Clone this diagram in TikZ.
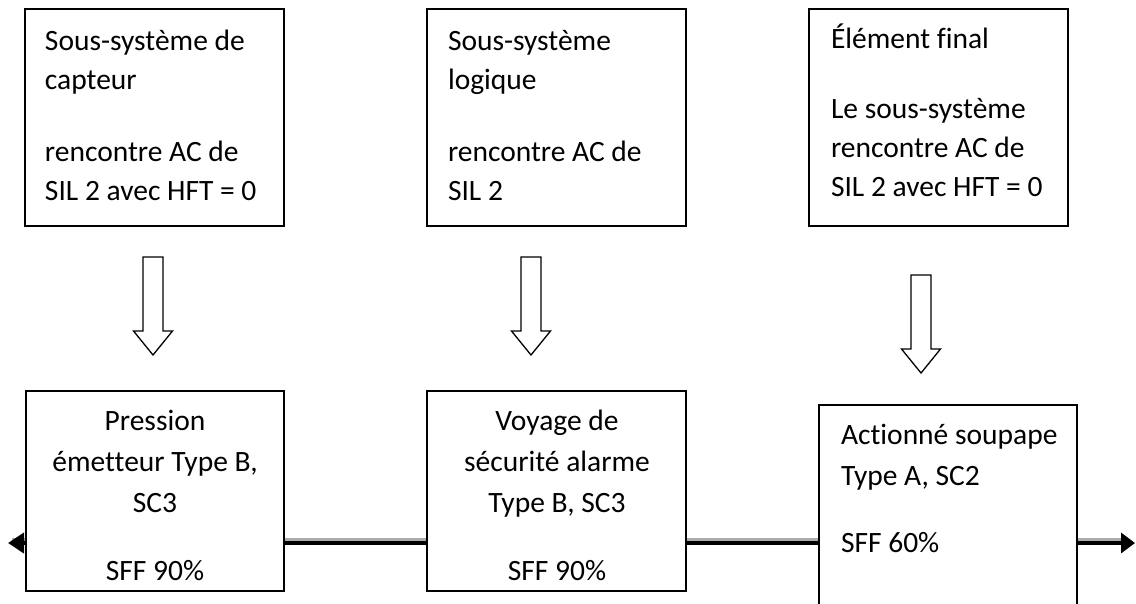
\documentclass[tikz,border=0pt]{standalone}
\usepackage{fontspec}
\setmainfont{Carlito}[Ligatures=NoCommon]
\usetikzlibrary{arrows.meta}
\begin{document}
\begin{tikzpicture}[x=1pt,y=-1pt,
  box/.style={draw=black, line width=1.3pt, fill=white, inner sep=0pt, outer sep=0pt},
  toptxt/.style={inner sep=0pt, outer sep=0pt, anchor=north west, align=left, text=black, font=\fontsize{29.5}{39}\selectfont},
  bottxt/.style={inner sep=0pt, outer sep=0pt, text=black, font=\fontsize{29.5}{41}\selectfont},
  hollow/.pic={\draw[line width=1.3pt, fill=white, line join=miter] (-10,0) -- (10,0) -- (10,74) -- (19.5,74) -- (0,98) -- (-19.5,74) -- (-10,74) -- cycle;}]
\useasboundingbox (0,0) rectangle (1136,603);
\clip (0,0) rectangle (1136,603);
\fill[white] (0,0) rectangle (1136,603);

% main horizontal line with shadow
\coordinate (L) at (8,543);
\coordinate (R) at (1135,543);
\coordinate (Ls) at (12,539.3);
\coordinate (Rs) at (1124,539.3);
\draw[gray!65, line width=3.6pt] (Ls) -- (Rs);
\draw[black, line width=4pt, {Triangle[length=16pt,width=20pt]}-{Triangle[length=14pt,width=20pt]}] (L) -- (R);

% top boxes
\node[box, anchor=north west, minimum width=259pt, minimum height=217pt] (b1) at (25,9) {};
\node[box, anchor=north west, minimum width=259pt, minimum height=217pt] (b2) at (427,9) {};
\node[box, anchor=north west, minimum width=259pt, minimum height=217pt] (b3) at (809,9) {};

\node[toptxt] (t1) at (45,25) {\rule{0pt}{25pt}Sous-système de\\capteur\\[33pt]rencontre AC de\\SIL 2 avec HFT = 0};
\node[toptxt] (t2) at (448,25) {\rule{0pt}{25pt}Sous-système\\logique\\[33pt]rencontre AC de\\SIL 2};
\node[toptxt] (t3) at (831,23) {\rule{0pt}{25pt}Élément final\\[31pt]Le sous-système\\rencontre AC de\\SIL 2 avec HFT = 0};

% hollow arrows
\pic at (153,257) {hollow};
\pic at (531,257) {hollow};
\pic at (921,275) {hollow};

% bottom boxes
\node[box, anchor=north west, minimum width=258pt, minimum height=200pt] (b4) at (26,391) {};
\node[box, anchor=north west, minimum width=259pt, minimum height=200pt] (b5) at (427,391) {};
\node[box, anchor=north west, minimum width=258pt, minimum height=260pt] (b6) at (819,405) {};

\node[bottxt, anchor=north, align=center] (t4) at (155,405) {\rule{0pt}{25pt}Pression\\émetteur Type B,\\SC3\\[27pt]SFF 90\%};
\node[bottxt, anchor=north, align=center] (t5) at (557,405) {\rule{0pt}{25pt}Voyage de\\sécurité alarme\\Type B, SC3\\[27pt]SFF 90\%};
\node[bottxt, anchor=north west, align=left] (t6) at (841,419) {\rule{0pt}{25pt}Actionné soupape\\Type A, SC2\\[26pt]SFF 60\%};
\end{tikzpicture}
\end{document}
